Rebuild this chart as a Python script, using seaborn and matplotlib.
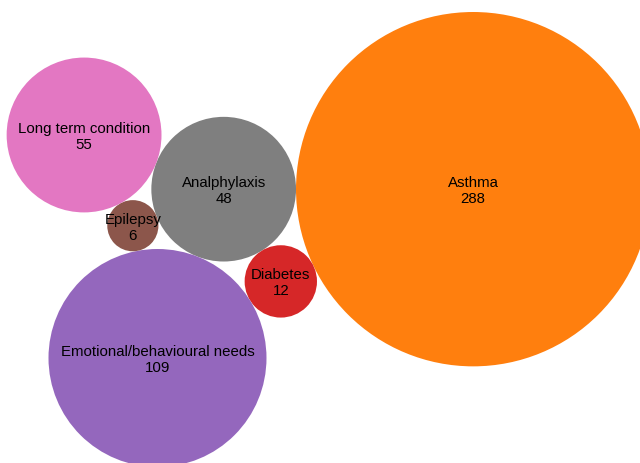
import numpy as np
import pandas as pd
import seaborn as sns
import matplotlib.pyplot as plt
from matplotlib.patches import Circle

categories = ["Analphylaxis", "Asthma", "Diabetes",
              "Emotional/behavioural needs", "Epilepsy", "Long term condition"]
counts = [48, 288, 12, 109, 6, 55]
colour_index = [7, 1, 3, 4, 5, 6]  # position in the tab10 / category10 palette


def pack_place(a, b, c, xs, ys, rs):
    """Put circle c tangent to circles a and b (old d3 pack rule)."""
    db = rs[a] + rs[c]
    dx = xs[b] - xs[a]
    dy = ys[b] - ys[a]
    if db and (dx or dy):
        da = (rs[b] + rs[c]) ** 2
        dc = dx * dx + dy * dy
        db *= db
        x = 0.5 + (db - da) / (2 * dc)
        db2 = db - dc
        y = np.sqrt(max(0.0, 2 * da * (db + dc) - db2 * db2 - da * da)) / (2 * dc)
        xs[c] = xs[a] + x * dx + y * dy
        ys[c] = ys[a] + x * dy - y * dx
    else:
        xs[c] = xs[a] + db
        ys[c] = ys[a]


def pack_siblings(radii):
    n = len(radii)
    rs = np.asarray(radii, dtype=float)
    xs = np.zeros(n)
    ys = np.zeros(n)
    nxt = list(range(n))
    prv = list(range(n))

    def insert(a, b):
        c = nxt[a]
        nxt[a] = b
        prv[b] = a
        nxt[b] = c
        prv[c] = b

    def splice(a, b):
        nxt[a] = b
        prv[b] = a

    def hits(a, b):
        dx = xs[b] - xs[a]
        dy = ys[b] - ys[a]
        dr = rs[a] + rs[b]
        return 0.999 * dr * dr > dx * dx + dy * dy

    a = 0
    xs[a] = -rs[a]
    if n > 1:
        b = 1
        xs[b] = rs[b]
        if n > 2:
            pack_place(a, b, 2, xs, ys, rs)
            insert(a, 2)
            prv[a] = 2
            insert(2, b)
            b = nxt[a]
            i = 3
            while i < n:
                c = i
                pack_place(a, b, c, xs, ys, rs)
                isect = False
                s1 = s2 = 1
                j = nxt[b]
                while j != b:
                    if hits(j, c):
                        isect = True
                        break
                    j = nxt[j]
                    s1 += 1
                k = prv[a]
                if isect:
                    while k != prv[j]:
                        if hits(k, c):
                            break
                        k = prv[k]
                        s2 += 1
                    if s1 < s2 or (s1 == s2 and rs[b] < rs[a]):
                        b = j
                        splice(a, b)
                    else:
                        a = k
                        splice(a, b)
                    continue
                insert(a, c)
                b = c
                i += 1

    # centre on the bounding box, like the old layout does
    cx = ((xs - rs).min() + (xs + rs).max()) / 2
    cy = ((ys - rs).min() + (ys + rs).max()) / 2
    return xs - cx, ys - cy


radius = np.sqrt(np.array(counts, dtype=float))
px, py = pack_siblings(radius)

df = pd.DataFrame({"category": categories, "count": counts,
                   "x": px, "y": py, "r": radius})

sns.set_style("white")
palette = sns.color_palette("tab10")

scale = 10.44          # pixels per sqrt(count)
ox, oy = 328.5, 240.5  # where the layout centre falls on the canvas

fig = plt.figure(figsize=(6.4, 4.64), dpi=100)
ax = fig.add_axes([0, 0, 1, 1])
ax.set_xlim(0, 640)
ax.set_ylim(464, 0)
ax.axis("off")

for row, ci in zip(df.itertuples(), colour_index):
    cx = ox + scale * row.x
    cy = oy - scale * row.y
    ax.add_patch(Circle((cx, cy), scale * row.r, color=palette[ci], lw=0))
    ax.text(cx, cy - 3, row.category, ha="center", va="baseline",
            fontsize=10.8, family="Liberation Sans", color="black")
    ax.text(cx, cy + 13, str(row.count), ha="center", va="baseline",
            fontsize=10.8, family="Liberation Sans", color="black")

fig.savefig("out.png", dpi=100)
